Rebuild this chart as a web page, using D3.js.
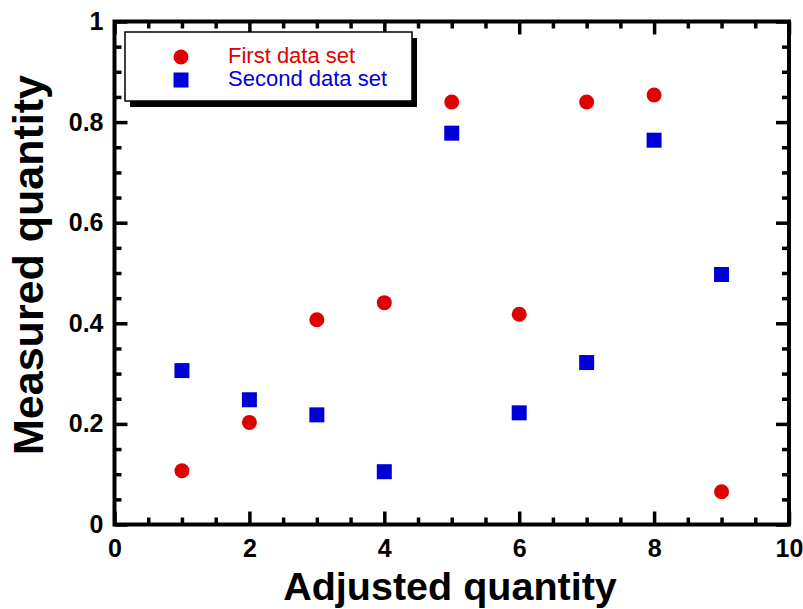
<!DOCTYPE html>
<html>
<head>
<meta charset="utf-8">
<script src="https://cdn.jsdelivr.net/npm/d3@7"></script>
<style>
  body { margin: 0; background: #fff; }
  svg { font-family: "Liberation Sans", Arial, sans-serif; }
  .tick text { font-weight: bold; font-size: 25px; fill: #000; }
  .tick line { stroke: #000; stroke-width: 3.5px; }
  .labels { font-weight: bold; fill: #000; }
</style>
</head>
<body>
<div id="chart"></div>
<script>
const xs = [1, 2, 3, 4, 5, 6, 7, 8, 9]
const firstSet = [0.107, 0.203, 0.407, 0.441, 0.84, 0.418, 0.84, 0.854, 0.065]
const secondSet = [0.306, 0.248, 0.218, 0.105, 0.778, 0.222, 0.322, 0.764, 0.497]
const seriesNames = ["First data set", "Second data set"]
const seriesColors = ["#e00000", "#0000d8"]
const xMajor = [0, 2, 4, 6, 8, 10]
const yMajor = [0, 0.2, 0.4, 0.6, 0.8, 1]

const totalWidth = 803
const totalHeight = 609
const margins = { left: 114.5, top: 21.5, right: 14, bottom: 84.5 }
const width = totalWidth - margins.left - margins.right
const height = totalHeight - margins.top - margins.bottom

const svg = d3.select("#chart")
    .append("svg")
    .attr("width", totalWidth)
    .attr("height", totalHeight)

const g = svg.append("g")
    .attr("transform", `translate(${margins.left}, ${margins.top})`)

const x = d3.scaleLinear().domain([0, 10]).range([0, width])
const y = d3.scaleLinear().domain([0, 1]).range([height, 0])

const xMinor = d3.range(0.5, 10, 0.5).filter((v) => v % 2 !== 0)
const yMinor = d3.range(0.05, 1, 0.05).filter((v) => Math.abs(v * 5 - Math.round(v * 5)) > 1e-6)

const minorLen = 7
const majorLen = 13

// bottom
g.append("g").attr("transform", `translate(0, ${height})`)
    .call(d3.axisBottom(x).tickValues(xMinor).tickFormat("").tickSizeInner(-minorLen).tickSizeOuter(0))
g.append("g").attr("transform", `translate(0, ${height})`)
    .call(d3.axisBottom(x).tickValues(xMajor).tickFormat(d3.format("d")).tickSizeInner(-majorLen).tickSizeOuter(0).tickPadding(15))
// top
g.append("g")
    .call(d3.axisTop(x).tickValues(xMinor).tickFormat("").tickSizeInner(-minorLen).tickSizeOuter(0))
g.append("g")
    .call(d3.axisTop(x).tickValues(xMajor).tickFormat("").tickSizeInner(-majorLen).tickSizeOuter(0))
// left
g.append("g")
    .call(d3.axisLeft(y).tickValues(yMinor).tickFormat("").tickSizeInner(-minorLen).tickSizeOuter(0))
g.append("g")
    .call(d3.axisLeft(y).tickValues(yMajor).tickFormat((d) => d === 0 || d === 1 ? d3.format("d")(d) : d3.format(".1f")(d)).tickSizeInner(-majorLen).tickSizeOuter(0).tickPadding(11))
// right
g.append("g").attr("transform", `translate(${width}, 0)`)
    .call(d3.axisRight(y).tickValues(yMinor).tickFormat("").tickSizeInner(-minorLen).tickSizeOuter(0))
g.append("g").attr("transform", `translate(${width}, 0)`)
    .call(d3.axisRight(y).tickValues(yMajor).tickFormat("").tickSizeInner(-majorLen).tickSizeOuter(0))

g.selectAll(".domain").remove()

g.append("rect")
    .attr("width", width)
    .attr("height", height)
    .attr("fill", "none")
    .attr("stroke", "#000")
    .attr("stroke-width", 4)

// data
g.selectAll("circle.first")
    .data(xs.map((v, i) => ({ x: v, y: firstSet[i] })))
    .enter()
    .append("circle")
    .attr("class", "first")
    .attr("cx", (d) => x(d.x))
    .attr("cy", (d) => y(d.y))
    .attr("r", 7.5)
    .attr("fill", seriesColors[0])

g.selectAll("rect.second")
    .data(xs.map((v, i) => ({ x: v, y: secondSet[i] })))
    .enter()
    .append("rect")
    .attr("class", "second")
    .attr("x", (d) => x(d.x) - 7.5)
    .attr("y", (d) => y(d.y) - 7.5)
    .attr("width", 15)
    .attr("height", 15)
    .attr("fill", seriesColors[1])

// legend
const legend = svg.append("g").attr("transform", "translate(125, 32)")
legend.append("rect")
    .attr("x", 5).attr("y", 6)
    .attr("width", 287).attr("height", 69)
    .attr("fill", "#000")
legend.append("rect")
    .attr("width", 287).attr("height", 69)
    .attr("fill", "#fff")
    .attr("stroke", "#000")
    .attr("stroke-width", 1.5)

legend.append("circle")
    .attr("cx", 56).attr("cy", 25).attr("r", 7.5)
    .attr("fill", seriesColors[0])
legend.append("rect")
    .attr("x", 48.5).attr("y", 40.5).attr("width", 15).attr("height", 15)
    .attr("fill", seriesColors[1])

legend.selectAll("text")
    .data(seriesNames)
    .enter()
    .append("text")
    .attr("x", 103)
    .attr("y", (d, i) => 31 + i * 23)
    .attr("font-size", "22px")
    .attr("fill", (d, i) => seriesColors[i])
    .text((d) => d)

// axis titles
svg.append("text")
    .attr("class", "labels")
    .attr("x", 450)
    .attr("y", 600)
    .attr("text-anchor", "middle")
    .attr("font-size", "39.5px")
    .text("Adjusted quantity")

svg.append("text")
    .attr("class", "labels")
    .attr("transform", "translate(43, 265) rotate(-90)")
    .attr("text-anchor", "middle")
    .attr("font-size", "43px")
    .text("Measured quantity")
</script>
</body>
</html>
